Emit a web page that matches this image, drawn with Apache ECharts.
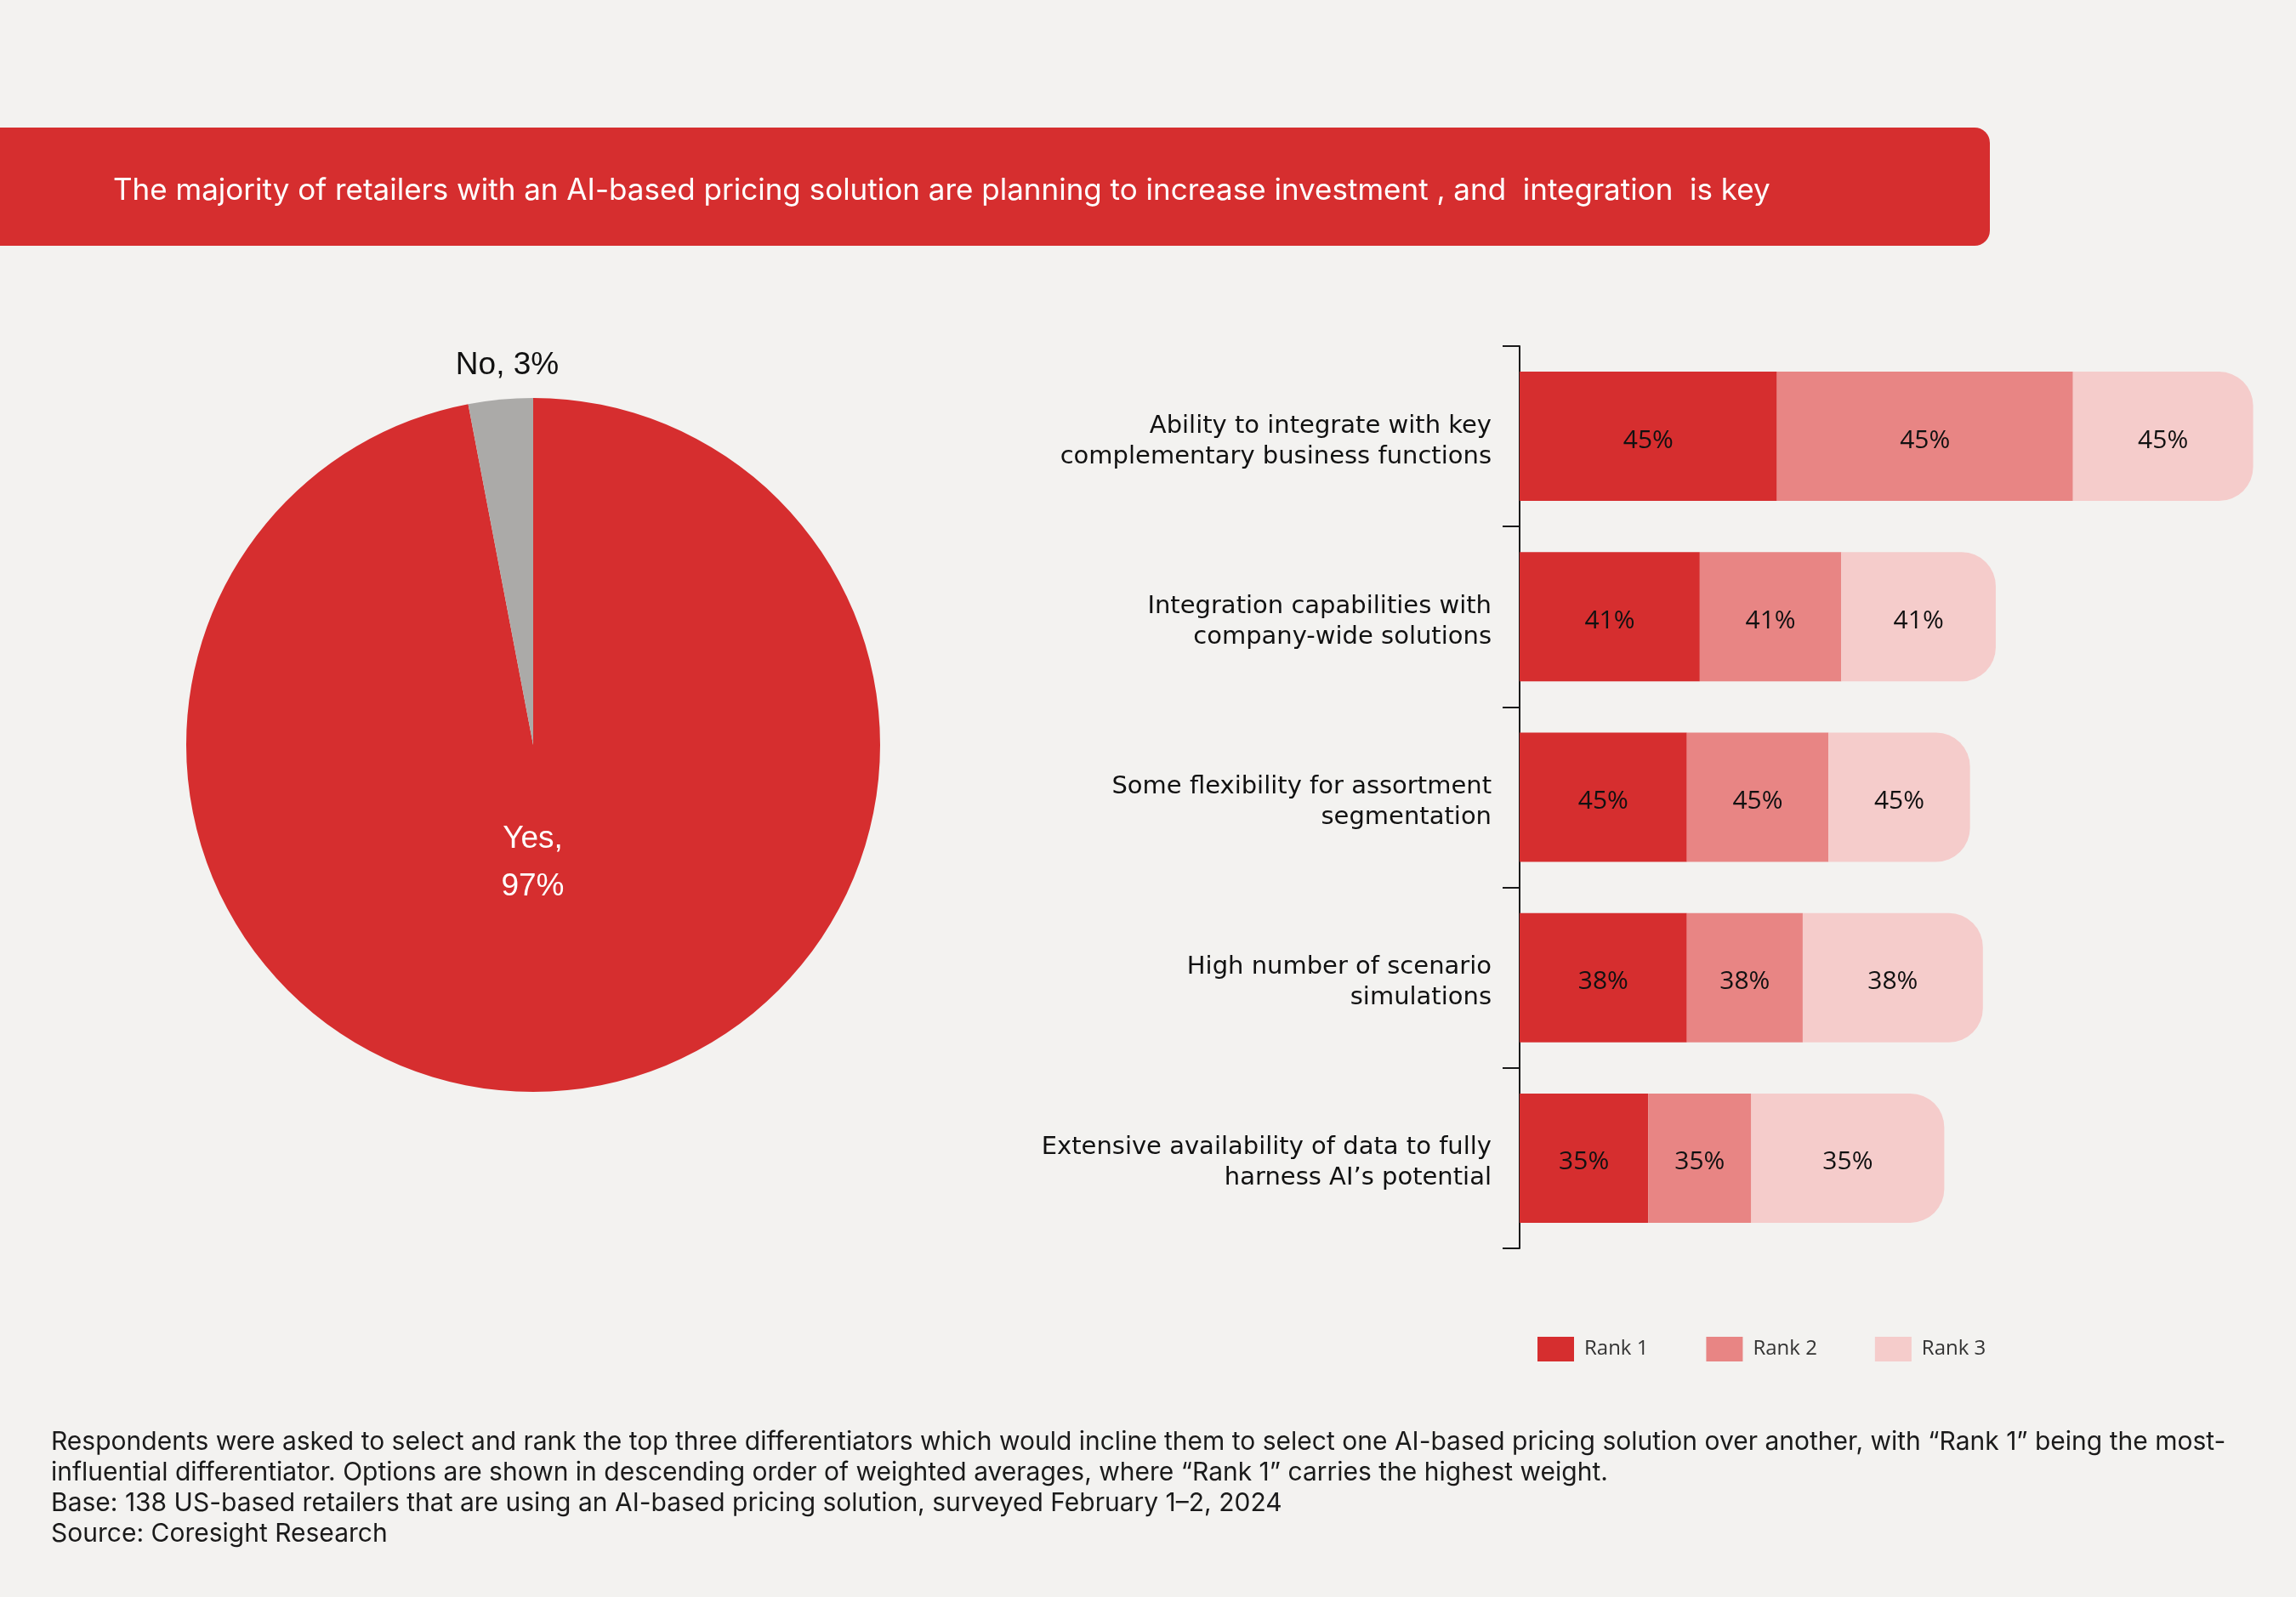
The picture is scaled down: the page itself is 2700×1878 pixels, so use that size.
<!DOCTYPE html>
<html>
<head>
<meta charset="utf-8">
<script src="https://cdn.jsdelivr.net/npm/echarts@6/dist/echarts.min.js"></script>
<style>
html,body{margin:0;padding:0;background:#F3F2F0;}
#c{width:2700px;height:1878px;}
</style>
</head>
<body>
<div id="c"></div>
<script>
// ---------- data ----------
const titleText = "The majority of retailers with an AI-based pricing solution are planning to increase investment , and  integration  is key";
const pieNames = ["Yes", "No"];
const pieValues = [97, 3];
const categories = [
  "Ability to integrate with key\ncomplementary business functions",
  "Integration capabilities with\ncompany-wide solutions",
  "Some flexibility for assortment\nsegmentation",
  "High number of scenario\nsimulations",
  "Extensive availability of data to fully\nharness AI\u2019s potential"
];
const rankNames = ["Rank 1", "Rank 2", "Rank 3"];
const rank1 = [20, 14, 13, 13, 10];
const rank2 = [23, 11, 11, 9, 8];
const rank3 = [14, 12, 11, 14, 15];
const shownPct = [45, 41, 45, 38, 35];
const footnoteLines = [
  "Respondents were asked to select and rank the top three differentiators which would incline them to select one AI-based pricing solution over another, with \u201cRank 1\u201d being the most-",
  "influential differentiator. Options are shown in descending order of weighted averages, where \u201cRank 1\u201d carries the highest weight.",
  "Base: 138 US-based retailers that are using an AI-based pricing solution, surveyed February 1\u20132, 2024",
  "Source: Coresight Research"
];

// ---------- styles ----------
const RED = '#D62E2F', MID = '#E88584', LIGHT = '#F5CCCB', GREY = '#ABAAA8';
const rankColors = [RED, MID, LIGHT];
const rankData = [rank1, rank2, rank3];

const chart = echarts.init(document.getElementById('c'), null, {renderer: 'canvas'});

const barSeries = rankNames.map((name, i) => ({
  name: name,
  type: 'bar',
  stack: 'ranks',
  barWidth: 152,
  data: rankData[i],
  itemStyle: {
    color: rankColors[i],
    borderRadius: i === 2 ? [0, 40, 40, 0] : 0
  },
  label: {
    show: true,
    position: 'inside',
    offset: [0, 5],
    formatter: p => shownPct[p.dataIndex] + '%',
    color: '#111',
    fontFamily: 'Open Sans',
    fontSize: 30
  },
  emphasis: {disabled: true},
  animation: false
}));

const option = {
  backgroundColor: '#F3F2F0',
  animation: false,
  textStyle: {fontFamily: 'Open Sans'},
  grid: {left: 1787, top: 407, right: 5, bottom: 410, containLabel: false, outerBoundsMode: 'none'},
  xAxis: {
    type: 'value', min: 0, max: 60, show: false,
    splitLine: {show: false}
  },
  yAxis: {
    type: 'category',
    inverse: true,
    data: categories,
    axisLine: {show: true, lineStyle: {color: '#1a1a1a', width: 2}},
    axisTick: {show: true, length: 20, inside: false, lineStyle: {color: '#1a1a1a', width: 2}},
    axisLabel: {
      color: '#111', fontFamily: 'DejaVu Sans', fontSize: 29, lineHeight: 36,
      margin: 33, align: 'right',
      formatter: v => '{s| }\n' + v,
      rich: {s: {fontSize: 8, lineHeight: 12}}
    },
    splitLine: {show: false}
  },
  legend: {
    data: rankNames,
    left: 1808,
    top: 1572,
    padding: 0,
    itemWidth: 43,
    itemHeight: 29,
    itemGap: 68,
    icon: 'rect',
    textStyle: {color: '#333', fontFamily: 'Open Sans', fontSize: 24, padding: [0, 0, 0, 7]},
    selectedMode: false
  },
  series: [
    {
      type: 'pie',
      center: [627, 876],
      radius: 408,
      startAngle: 90,
      clockwise: true,
      silent: true,
      data: pieNames.map((n, i) => ({
        name: n,
        value: pieValues[i],
        itemStyle: {color: i === 0 ? RED : GREY},
        label: {color: i === 0 ? '#ffffff' : '#111111'}
      })),
      label: {
        show: true,
        position: 'inside',
        fontFamily: 'Liberation Sans',
        fontSize: 37,
        lineHeight: 56,
        formatter: p => p.dataIndex === 0 ? p.name + ',\n' + p.value + '%' : p.name + ', ' + p.value + '%'
      },
      labelLine: {show: false},
      labelLayout: p => p.dataIndex === 0 ? {dx: -20, dy: -67} : {dx: -11, dy: -240},
      emphasis: {disabled: true}
    },
    ...barSeries
  ],
  graphic: [
    {
      type: 'rect',
      shape: {x: 0, y: 150, width: 2340, height: 139, r: [0, 18, 18, 0]},
      style: {fill: RED},
      silent: true
    },
    {
      type: 'text',
      style: {
        x: 133, y: 224, text: titleText, fill: '#ffffff',
        fontFamily: 'Inter', fontSize: 35, verticalAlign: 'middle'
      },
      silent: true
    },
    {
      type: 'text',
      style: {
        x: 60, y: 1678, text: footnoteLines.join('\n'), fill: '#1a1a1a',
        fontFamily: 'Inter', fontSize: 30, lineHeight: 36, verticalAlign: 'top'
      },
      silent: true
    }
  ]
};
chart.setOption(option);
</script>
</body>
</html>
